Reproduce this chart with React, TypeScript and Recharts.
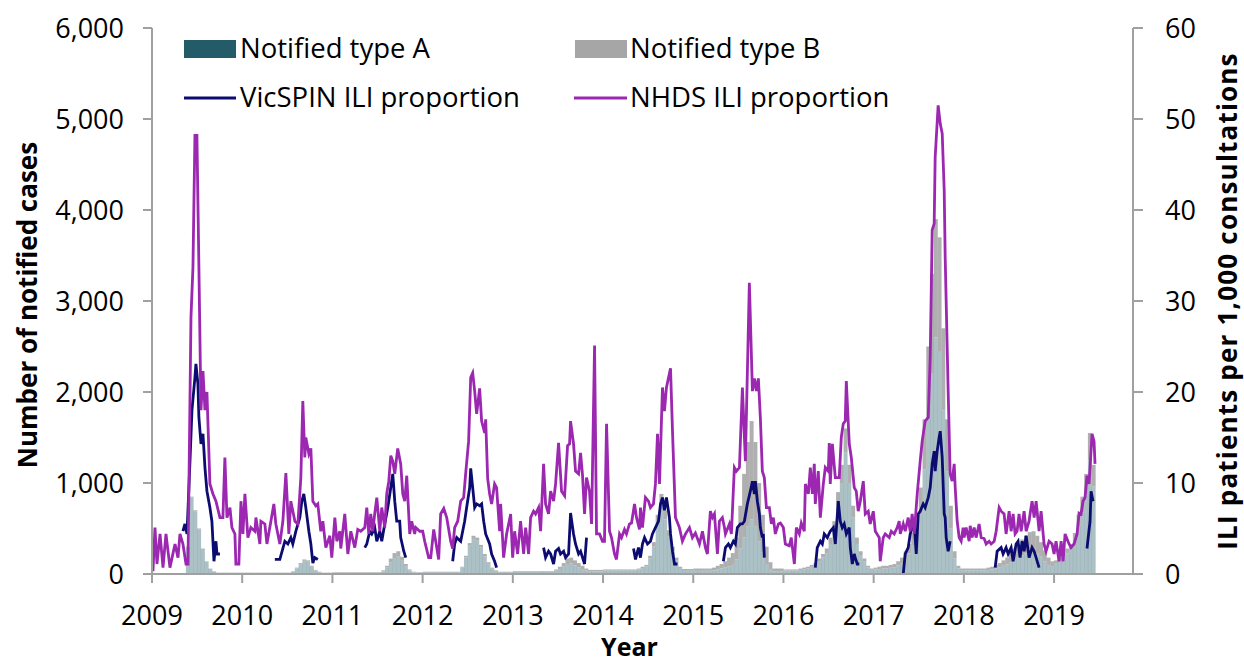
import React from 'react';
import { ComposedChart, Bar, Line, XAxis, YAxis } from 'recharts';

const yearTicks = [2009, 2010, 2011, 2012, 2013, 2014, 2015, 2016, 2017, 2018, 2019];
const leftTicks = [0, 1000, 2000, 3000, 4000, 5000, 6000];
const rightTicks = [0, 10, 20, 30, 40, 50, 60];
const axisEnd = 2019.875;

// Notified cases, half-month bins (type A / type B)
const typeA2009 = [8,8,8,8,8,8,8,8,8,295,840,690,492,275,137,58,28,13,13,13,13,13,13,13];
const typeB2009 = [2,2,2,2,2,2,2,2,2,5,10,10,8,5,3,2,2,2,2,2,2,2,2,2];
const typeA2010 = [12,12,12,12,12,12,12,12,12,12,12,12,12,25,62,108,145,135,80,38,20,12,12,12];
const typeB2010 = [3,3,3,3,3,3,3,3,3,3,3,3,3,5,8,12,15,15,10,7,5,3,3,3];
const typeA2011 = [15,15,15,15,15,15,15,15,15,15,15,15,15,30,70,130,175,190,145,85,38,18,15,15];
const typeB2011 = [5,5,5,5,5,5,5,5,5,5,5,5,5,10,20,40,55,60,45,25,12,7,5,5];
const typeA2012 = [20,20,20,20,20,20,20,20,20,20,70,180,310,385,365,290,195,112,58,32,20,20,20,20];
const typeB2012 = [5,5,5,5,5,5,5,5,5,5,10,20,30,35,35,30,25,18,12,8,5,5,5,5];
const typeA2013 = [22,22,22,22,22,22,22,22,22,22,22,35,55,80,110,115,95,75,55,38,28,28,28,28];
const typeB2013 = [8,8,8,8,8,8,8,8,8,8,8,15,25,40,60,65,55,45,35,22,17,17,17,17];
const typeA2014 = [40,40,40,40,40,40,40,40,40,48,65,82,170,300,560,760,600,410,255,150,65,44,44,44];
const typeB2014 = [10,10,10,10,10,10,10,10,10,12,15,18,30,50,90,120,100,70,45,30,15,11,11,11];
const typeA2015 = [35,35,35,35,35,40,50,60,70,85,100,160,280,400,520,600,520,360,240,110,55,30,30,30];
const typeB2015 = [25,25,25,25,25,30,40,50,70,95,130,240,470,700,930,1080,930,640,410,190,75,30,30,30];
const typeA2016 = [38,38,38,38,45,52,60,78,95,135,180,230,330,480,750,1000,1340,1000,620,330,200,135,70,45];
const typeB2016 = [12,12,12,12,15,18,20,22,25,35,40,50,70,100,150,200,260,200,130,70,50,35,20,15];
const typeA2017 = [50,55,62,62,68,75,95,120,170,225,310,410,650,1150,1700,2200,2600,2450,1800,1130,500,170,62,42];
const typeB2017 = [20,25,28,28,32,35,45,60,80,105,140,190,300,550,800,1100,1300,1250,900,570,250,80,28,18];
const typeA2018 = [40,40,40,40,40,40,45,50,62,72,90,105,130,155,180,205,225,245,250,225,190,140,100,80];
const typeB2018 = [20,20,20,20,20,20,25,30,38,48,60,75,100,125,150,175,195,215,220,195,160,120,80,60];
const typeA2019 = [120,145,185,225,265,360,520,680,880,1250,960];
const typeB2019 = [30,35,45,55,65,90,130,170,220,300,240];

const typeAYears = [typeA2009,typeA2010,typeA2011,typeA2012,typeA2013,typeA2014,typeA2015,typeA2016,typeA2017,typeA2018,typeA2019];
const typeBYears = [typeB2009,typeB2010,typeB2011,typeB2012,typeB2013,typeB2014,typeB2015,typeB2016,typeB2017,typeB2018,typeB2019];

// NHDS ILI proportion (date in decimal years, patients per 1,000 consultations)
const nhds2009 = [[2009.011,0.3],[2009.033,5.1],[2009.055,1.1],[2009.089,4.4],[2009.122,0.7],[2009.155,4.4],[2009.199,0.7],[2009.255,3.3],[2009.288,1.8],[2009.310,4.4],[2009.343,3.3],[2009.377,1.1],[2009.399,1.1],[2009.432,28.2],[2009.454,33.7],[2009.476,48.2],[2009.498,48.2],[2009.520,33.7],[2009.543,18],[2009.565,22.3],[2009.587,18],[2009.609,20],[2009.642,9.9],[2009.676,8.8],[2009.709,8],[2009.753,6.2],[2009.786,6.2],[2009.808,12.8],[2009.831,6.2],[2009.864,7.3],[2009.886,5.1],[2009.919,4.4],[2009.930,1.1],[2009.963,1.1],[2009.986,8]];
const nhds2010 = [[2010.008,4.4],[2010.030,8.8],[2010.063,4],[2010.096,5.1],[2010.141,4.7],[2010.152,6.2],[2010.196,3.3],[2010.207,5.8],[2010.251,5.5],[2010.274,3.3],[2010.318,5.8],[2010.351,7.7],[2010.373,5.5],[2010.417,3.3],[2010.451,5.8],[2010.484,11.1],[2010.517,4.4],[2010.539,8],[2010.584,5.8],[2010.617,5.5],[2010.650,10.6],[2010.672,19],[2010.694,12.8],[2010.705,15],[2010.739,13.2],[2010.761,13.8],[2010.783,8],[2010.816,7.5],[2010.838,7.7],[2010.871,4.7],[2010.894,5.8],[2010.927,2.9],[2010.971,4.2],[2010.993,1.8]];
const nhds2011 = [[2011.027,6.2],[2011.049,3.6],[2011.082,4.7],[2011.093,2.8],[2011.137,6.6],[2011.171,2.2],[2011.204,4.7],[2011.248,2.9],[2011.281,4.9],[2011.314,4.7],[2011.359,5.1],[2011.381,7.3],[2011.403,4.4],[2011.425,6.6],[2011.447,4.7],[2011.469,6.6],[2011.492,8.4],[2011.525,4.7],[2011.547,7.3],[2011.580,5.1],[2011.602,8.8],[2011.625,10.2],[2011.647,13],[2011.669,12.4],[2011.691,11],[2011.724,13.8],[2011.757,12.1],[2011.780,8.8],[2011.802,8],[2011.824,10.8],[2011.857,4.4],[2011.879,5.8],[2011.912,4.4],[2011.924,5.1],[2011.968,4.7]];
const nhds2012 = [[2012.001,4.7],[2012.023,3.6],[2012.067,1.8],[2012.090,1.8],[2012.123,4.9],[2012.145,3.6],[2012.178,1.6],[2012.200,6.6],[2012.234,7.2],[2012.267,6.2],[2012.311,3.6],[2012.333,2.8],[2012.355,5.1],[2012.389,5.8],[2012.422,8],[2012.455,8.4],[2012.477,11],[2012.510,14.6],[2012.533,21.6],[2012.555,22.1],[2012.577,20.1],[2012.599,17.6],[2012.632,20.4],[2012.654,16.8],[2012.688,15.5],[2012.699,17],[2012.721,10.5],[2012.743,8.8],[2012.765,7.7],[2012.798,9.9],[2012.820,9.5],[2012.854,4.7],[2012.865,7.7],[2012.898,1.8],[2012.931,4.4],[2012.976,6.6],[2012.998,1.8]];
const nhds2013 = [[2013.020,4.7],[2013.053,2.2],[2013.086,5.8],[2013.120,2.2],[2013.142,5.1],[2013.175,2.2],[2013.197,6.2],[2013.230,6.9],[2013.252,6.6],[2013.286,7.3],[2013.308,4.7],[2013.341,12.1],[2013.363,7.7],[2013.396,6.6],[2013.419,9.1],[2013.452,8],[2013.474,9.9],[2013.507,14.4],[2013.540,9.1],[2013.574,8.6],[2013.607,14.1],[2013.629,14.3],[2013.640,16.8],[2013.673,14.3],[2013.695,11.3],[2013.729,11],[2013.751,13.3],[2013.773,10.8],[2013.795,6.6],[2013.817,10.6],[2013.850,9.1],[2013.873,5.5],[2013.906,25.1],[2013.928,4.4],[2013.961,4.4],[2013.994,3.6]];
const nhds2014 = [[2014.016,3.6],[2014.039,16.5],[2014.072,4.7],[2014.094,4],[2014.127,2.2],[2014.149,1.6],[2014.183,4.4],[2014.205,4.0],[2014.238,4.9],[2014.260,4.4],[2014.293,5.5],[2014.316,5.6],[2014.349,7.7],[2014.371,6.2],[2014.404,4.9],[2014.415,7.3],[2014.437,5.1],[2014.470,8.4],[2014.504,8],[2014.526,7.3],[2014.559,7.7],[2014.581,9.9],[2014.604,15.4],[2014.626,9.9],[2014.659,20.5],[2014.681,17.9],[2014.703,20.5],[2014.748,22.6],[2014.770,15.7],[2014.803,6.2],[2014.847,5.1],[2014.880,3.6],[2014.914,4.4],[2014.958,5.1],[2014.991,4]];
const nhds2015 = [[2015.024,4.5],[2015.069,3.3],[2015.102,4.7],[2015.135,2.9],[2015.157,2.2],[2015.190,6.9],[2015.213,6.2],[2015.235,6.6],[2015.268,2.2],[2015.290,5.8],[2015.323,6.2],[2015.346,5.1],[2015.357,4.4],[2015.401,5.5],[2015.423,4.4],[2015.456,11.7],[2015.478,11.3],[2015.512,11.7],[2015.545,20.5],[2015.578,12.4],[2015.622,32],[2015.656,20.1],[2015.678,21.5],[2015.700,20.1],[2015.722,21.5],[2015.744,17.2],[2015.766,11.3],[2015.788,10.6],[2015.811,7.3],[2015.844,7.3],[2015.866,5.5],[2015.888,6.2],[2015.910,4.4],[2015.944,5.5],[2015.966,5.6]];
const nhds2016 = [[2015.999,5.1],[2016.021,3.3],[2016.065,3.1],[2016.087,4],[2016.121,1.1],[2016.143,5.1],[2016.176,4.4],[2016.198,5.6],[2016.231,4.7],[2016.243,9.9],[2016.276,8.8],[2016.298,11.7],[2016.320,8.8],[2016.342,12.1],[2016.353,7.7],[2016.386,11.3],[2016.409,6.2],[2016.442,9.9],[2016.464,11.7],[2016.497,11.3],[2016.508,14.4],[2016.519,9.9],[2016.542,14.3],[2016.575,10.6],[2016.619,10.6],[2016.641,15],[2016.663,16.5],[2016.685,16.8],[2016.697,21.2],[2016.719,16.5],[2016.730,14.3],[2016.752,12.8],[2016.785,9.5],[2016.807,9.1],[2016.829,6.9],[2016.852,8],[2016.885,10.2],[2016.907,6.6],[2016.940,6.9],[2016.962,5.5]];
const nhds2017 = [[2016.996,6.9],[2017.018,4.7],[2017.062,4],[2017.073,1.4],[2017.106,4],[2017.128,4.4],[2017.173,4],[2017.195,4.7],[2017.228,4.4],[2017.261,5.1],[2017.283,5.8],[2017.295,4.4],[2017.328,5.5],[2017.350,4.7],[2017.383,6.2],[2017.405,4.7],[2017.427,6.6],[2017.450,4.4],[2017.483,8.8],[2017.516,12.4],[2017.538,14.6],[2017.571,16.8],[2017.605,17.2],[2017.627,23.8],[2017.649,37.8],[2017.671,38.5],[2017.682,45.8],[2017.715,51.5],[2017.738,49.5],[2017.760,48.4],[2017.782,42.2],[2017.793,34.8],[2017.826,20.1],[2017.848,11],[2017.870,10.2],[2017.893,12.1],[2017.904,9.5],[2017.926,5.8],[2017.948,4],[2017.970,3.6],[2017.992,5.1]];
const nhds2018 = [[2018.003,4],[2018.025,5.1],[2018.059,3.6],[2018.070,5.3],[2018.092,4],[2018.114,5.1],[2018.136,4],[2018.169,5.5],[2018.192,4],[2018.225,3.9],[2018.247,3.3],[2018.280,3.6],[2018.302,3.3],[2018.336,3.6],[2018.358,4.7],[2018.391,7.3],[2018.413,6.9],[2018.446,6.6],[2018.468,4.4],[2018.502,6.9],[2018.524,4.7],[2018.546,6.6],[2018.568,4.4],[2018.590,4.7],[2018.612,6.6],[2018.635,4.7],[2018.668,6.9],[2018.690,4.7],[2018.723,5.8],[2018.734,6.6],[2018.756,8],[2018.779,6.2],[2018.801,8],[2018.834,4.7],[2018.856,6.9],[2018.889,3.3],[2018.911,2.5],[2018.945,3.6],[2018.978,3.3]];
const nhds2019 = [[2019.000,2.2],[2019.022,3.6],[2019.055,1.4],[2019.078,3.6],[2019.100,1.4],[2019.122,4.4],[2019.166,3.3],[2019.188,2.9],[2019.221,3.3],[2019.255,4.4],[2019.277,6.7],[2019.299,6.6],[2019.321,8],[2019.343,8.4],[2019.365,10.8],[2019.388,9.9],[2019.399,11.7],[2019.421,15.4],[2019.443,14.6],[2019.454,12.1]];

// VicSPIN ILI proportion, one run per season
const vic2009 = [[2009.343,4.7],[2009.365,5.5],[2009.388,4.4],[2009.421,12.4],[2009.443,18],[2009.476,21.6],[2009.487,23.1],[2009.509,20.9],[2009.520,17.2],[2009.543,14.3],[2009.565,15.4],[2009.587,11.7],[2009.609,9.1],[2009.642,7.3],[2009.664,5.8],[2009.687,1.4],[2009.709,3.6],[2009.720,2.2],[2009.753,2.2]];
const vic2010 = [[2010.362,1.6],[2010.417,1.6],[2010.473,3.6],[2010.506,3.3],[2010.539,4],[2010.561,3.3],[2010.595,4.7],[2010.639,6.2],[2010.661,8],[2010.683,8.8],[2010.705,7.3],[2010.739,4.7],[2010.761,3.3],[2010.783,1.2],[2010.805,1.8],[2010.838,1.6]];
const vic2011 = [[2011.359,2.9],[2011.381,3.3],[2011.414,4.7],[2011.436,4.4],[2011.469,5.1],[2011.492,3.6],[2011.525,4.7],[2011.547,3.6],[2011.580,5.5],[2011.614,7.3],[2011.647,9.5],[2011.669,11],[2011.691,8],[2011.713,5.8],[2011.746,5.8],[2011.757,4],[2011.791,2.5],[2011.813,1.8]];
const vic2012 = [[2012.333,1.4],[2012.355,3.3],[2012.378,4],[2012.422,3.6],[2012.444,4.7],[2012.466,5.8],[2012.488,7.3],[2012.522,9.5],[2012.533,11.6],[2012.555,9.5],[2012.577,7.3],[2012.599,7.7],[2012.632,7.5],[2012.654,7.7],[2012.677,5.8],[2012.699,4.4],[2012.743,3.3],[2012.765,2.2],[2012.798,1.4],[2012.820,0.7]];
const vic2013 = [[2013.341,2.9],[2013.363,1.8],[2013.396,2.5],[2013.419,2.2],[2013.452,1.1],[2013.474,2.5],[2013.507,2.8],[2013.529,2.2],[2013.563,2.5],[2013.585,1.8],[2013.618,2.2],[2013.640,6.7],[2013.673,4.4],[2013.695,3.3],[2013.729,2.2],[2013.751,2.5],[2013.773,1.8],[2013.795,1.1],[2013.817,4]];
const vic2014 = [[2014.338,2.8],[2014.360,1.6],[2014.393,2.9],[2014.415,1.8],[2014.437,3.3],[2014.460,4],[2014.493,3.3],[2014.526,3.6],[2014.548,4.4],[2014.581,5.1],[2014.615,5.8],[2014.637,7.7],[2014.659,8.4],[2014.681,7],[2014.703,8.4],[2014.736,6.2],[2014.748,4.4],[2014.770,2.5],[2014.792,1.1],[2014.825,1.1]];
const vic2015 = [[2015.334,1.4],[2015.357,2.9],[2015.390,3.3],[2015.412,2.9],[2015.445,3.6],[2015.467,3.3],[2015.489,5.1],[2015.523,5.5],[2015.545,5.5],[2015.567,5.8],[2015.600,7.7],[2015.633,9.1],[2015.656,10.2],[2015.678,8.8],[2015.689,10.2],[2015.711,8],[2015.733,6.6],[2015.744,5.1],[2015.766,4],[2015.777,4.4],[2015.788,1.8]];
const vic2016 = [[2016.353,0.7],[2016.375,2.9],[2016.409,3.6],[2016.431,3.3],[2016.453,4.4],[2016.486,4],[2016.519,4.7],[2016.553,5.1],[2016.575,3.3],[2016.608,8],[2016.630,5.8],[2016.652,5.1],[2016.674,5.5],[2016.697,4.4],[2016.730,5.1],[2016.741,2.9],[2016.763,1.1],[2016.785,2.2],[2016.796,1.8],[2016.818,1.1],[2016.841,1.1]];
const vic2017 = [[2017.328,0],[2017.350,2.2],[2017.383,2.9],[2017.405,4.4],[2017.427,5.1],[2017.450,5.5],[2017.472,2.2],[2017.494,6.6],[2017.516,6.9],[2017.549,7.7],[2017.571,7.3],[2017.605,8.4],[2017.627,9.5],[2017.649,12.1],[2017.671,13.5],[2017.682,11.3],[2017.704,13.5],[2017.726,15],[2017.738,15.7],[2017.760,12.8],[2017.782,6.6],[2017.793,6.2],[2017.804,4],[2017.826,2.5],[2017.848,3.6]];
const vic2018 = [[2018.347,0.7],[2018.369,2.5],[2018.413,2.9],[2018.435,2.2],[2018.468,2.9],[2018.491,2.2],[2018.524,2.9],[2018.546,1.4],[2018.579,3.3],[2018.601,3.6],[2018.623,1.8],[2018.646,3.6],[2018.668,2.5],[2018.690,4.2],[2018.723,1.8],[2018.756,2.9],[2018.779,2.5],[2018.801,1.8],[2018.834,0.7]];
const vic2019 = [[2019.365,2.8],[2019.399,5.8],[2019.410,9.1],[2019.432,8]];

const FONT = '"Open Sans", sans-serif';
const AXIS = '#A0A0A0';
const PURPLE = '#9C27B0';
const NAVY = '#0C0C70';
const TEAL = '#245B69';
const GRAY = '#A6A6A6';

// half-month bins from 2009.0 up to the end of the time axis (empty after the last report)
const binCount = Math.round((axisEnd - 2009) * 24);
const barData = Array.from({ length: binCount }, (_, i) => {
  const yi = Math.floor(i / 24);
  const k = i % 24;
  const a = typeAYears[yi] ? typeAYears[yi][k] : undefined;
  const b = typeBYears[yi] ? typeBYears[yi][k] : undefined;
  return { bin: i, a: a ?? null, b: b ?? null };
});

const nhdsData = [nhds2009, nhds2010, nhds2011, nhds2012, nhds2013, nhds2014, nhds2015, nhds2016, nhds2017, nhds2018, nhds2019]
  .flat()
  .map(([t, v]) => ({ t, v }));

const vicData = [vic2009, vic2010, vic2011, vic2012, vic2013, vic2014, vic2015, vic2016, vic2017, vic2018, vic2019]
  .flatMap((seg) => {
    const pts = seg.map(([t, v]) => ({ t, v: v as number | null }));
    const last = seg[seg.length - 1][0];
    return [...pts, { t: last + 0.01, v: null }];
  });

const fmt = (n: number) => n.toLocaleString('en-US');

export default function App() {
  const tickStyle = { fill: '#000', fontSize: 27, fontFamily: FONT };
  return (
    <div style={{ position: 'absolute', left: 0, top: 0, width: 1244, height: 662, background: '#fff' }}>
      <ComposedChart
        width={1244}
        height={662}
        data={barData}
        margin={{ top: 28, right: 0, bottom: 28, left: 0 }}
        barCategoryGap={0}
        barGap={0}
      >
        <XAxis
          xAxisId="time"
          dataKey="t"
          type="number"
          domain={[2009, axisEnd]}
          ticks={yearTicks}
          allowDataOverflow
          height={60}
          tick={tickStyle}
          tickSize={9}
          tickMargin={23}
          axisLine={{ stroke: AXIS, strokeWidth: 2 }}
          tickLine={{ stroke: AXIS, strokeWidth: 2 }}
          interval={0}
        />
        <XAxis xAxisId="bins" dataKey="bin" type="category" orientation="top" height={0} hide />
        <YAxis
          yAxisId="L"
          width={152}
          domain={[0, 6000]}
          ticks={leftTicks}
          tickFormatter={fmt}
          tick={tickStyle}
          tickSize={9}
          tickMargin={19}
          axisLine={{ stroke: AXIS, strokeWidth: 2 }}
          tickLine={{ stroke: AXIS, strokeWidth: 2 }}
          interval={0}
        />
        <YAxis
          yAxisId="R"
          orientation="right"
          width={111}
          domain={[0, 60]}
          ticks={rightTicks}
          tick={tickStyle}
          tickSize={10}
          tickMargin={22}
          axisLine={{ stroke: AXIS, strokeWidth: 2 }}
          tickLine={{ stroke: AXIS, strokeWidth: 2 }}
          interval={0}
        />
        <Bar xAxisId="bins" yAxisId="L" dataKey="a" stackId="n" fill={TEAL} fillOpacity={0.38} isAnimationActive={false} />
        <Bar xAxisId="bins" yAxisId="L" dataKey="b" stackId="n" fill={GRAY} fillOpacity={0.9} isAnimationActive={false} />
        <Line
          xAxisId="time"
          yAxisId="R"
          data={vicData}
          dataKey="v"
          type="linear"
          stroke={NAVY}
          strokeWidth={2.8}
          dot={false}
          activeDot={false}
          connectNulls={false}
          isAnimationActive={false}
        />
        <Line
          xAxisId="time"
          yAxisId="R"
          data={nhdsData}
          dataKey="v"
          type="linear"
          stroke={PURPLE}
          strokeWidth={2.8}
          dot={false}
          activeDot={false}
          isAnimationActive={false}
        />
      </ComposedChart>
      <svg
        width={1244}
        height={662}
        style={{ position: 'absolute', left: 0, top: 0, pointerEvents: 'none' }}
        fontFamily={FONT}
      >
        <rect x={184} y={40} width={52} height={18} fill={TEAL} />
        <text x={240} y={58} fontSize={27.5} fill="#000">Notified type A</text>
        <rect x={575} y={40} width={52} height={18} fill={GRAY} />
        <text x={630} y={58} fontSize={27.5} fill="#000">Notified type B</text>
        <line x1={184} x2={236} y1={98} y2={98} stroke={NAVY} strokeWidth={3} />
        <text x={240} y={107} fontSize={27.5} fill="#000">VicSPIN ILI proportion</text>
        <line x1={574} x2={627} y1={98} y2={98} stroke={PURPLE} strokeWidth={3} />
        <text x={630} y={107} fontSize={27.5} fill="#000">NHDS ILI proportion</text>
        <text
          transform="translate(37,305) rotate(-90)"
          textAnchor="middle"
          fontSize={26}
          fontWeight="bold"
          fill="#000"
        >
          Number of notified cases
        </text>
        <text
          transform="translate(1237,301) rotate(-90)"
          textAnchor="middle"
          fontSize={26}
          letterSpacing={1.2}
          fontWeight="bold"
          fill="#000"
        >
          ILI patients per 1,000 consultations
        </text>
        <text x={629.5} y={656} textAnchor="middle" fontSize={25} fontWeight="bold" fill="#000">
          Year
        </text>
      </svg>
    </div>
  );
}
